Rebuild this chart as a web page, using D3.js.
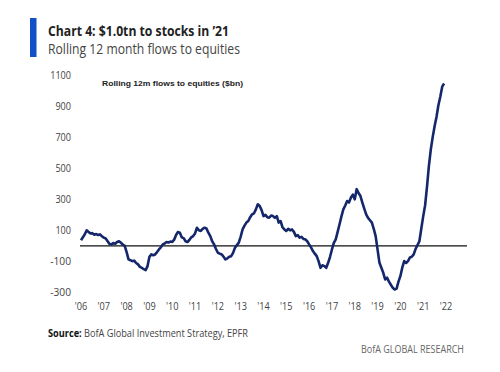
<!DOCTYPE html>
<html><head><meta charset="utf-8">
<script src="https://cdn.jsdelivr.net/npm/d3@7"></script>
<style>body{margin:0;background:#fff}svg{display:block}</style>
</head><body>
<script>
const years = ["'06","'07","'08","'09","'10","'11","'12","'13","'14","'15","'16","'17","'18","'19","'20","'21","'22"];
const yTicks = [-300,-100,100,300,500,700,900,1100];
const startYear = 2006;
// monthly rolling 12m flows ($bn), Jan 2006 .. Dec 2021
const flows2006_2009 = [37,55,75,100,90,80,82,72,76,70,74,62,
  53,48,30,12,10,18,14,25,30,20,8,0,
  -40,-87,-92,-98,-95,-110,-119,-135,-141,-150,-156,-130,
  -70,-55,-60,-55,-40,-23,-10,10,15,25,22,28];
const flows2010_2013 = [25,40,70,89,85,55,50,30,25,38,55,63,
  80,117,100,96,110,117,112,85,63,30,10,-20,
  -44,-50,-55,-70,-87,-80,-70,-66,-45,-12,5,21,
  60,106,130,150,160,185,203,210,235,268,257,230];
const flows2014_2017 = [192,200,185,182,195,192,180,192,150,160,120,106,
  96,110,100,106,90,63,70,53,58,45,42,30,
  10,-10,-33,-50,-66,-100,-141,-125,-130,-141,-109,-70,
  -23,20,42,90,139,190,235,260,289,280,311,330];
const flows2018_2021 = [300,365,340,321,279,240,203,180,165,150,110,63,
  -23,-109,-141,-173,-216,-205,-230,-250,-270,-281,-275,-230,
  -195,-140,-98,-110,-98,-75,-70,-55,-20,5,30,110,
  190,260,380,515,620,700,770,830,905,960,1025,1045];
const values = [...flows2006_2009, ...flows2010_2013, ...flows2014_2017, ...flows2018_2021];

const W = 500, H = 372;
const svg = d3.select("body").append("svg").attr("width", W).attr("height", H);

const x = d3.scaleLinear().domain([2006, 2022]).range([81, 446]);
const y = d3.scaleLinear().domain([-300, 1100]).range([292.5, 75]);

const font = "'Open Sans', 'Noto Sans', sans-serif";

// title block
svg.append("rect").attr("x", 30).attr("y", 18).attr("width", 6.5).attr("height", 39).attr("fill", "#1150c8");
svg.append("text").attr("x", 48).attr("y", 36).attr("font-family", font).attr("font-weight", "bold")
  .attr("font-size", 14.5).attr("fill", "#222").attr("textLength", 181).attr("lengthAdjust", "spacingAndGlyphs")
  .text("Chart 4: $1.0tn to stocks in \u201921");
svg.append("text").attr("x", 48).attr("y", 54).attr("font-family", font)
  .attr("font-size", 14).attr("fill", "#444").attr("textLength", 192).attr("lengthAdjust", "spacingAndGlyphs")
  .text("Rolling 12 month flows to equities");

// y tick labels
svg.append("g").selectAll("text").data(yTicks).join("text")
  .attr("x", 71).attr("y", d => y(d) + 3.5).attr("text-anchor", "end")
  .attr("font-family", font).attr("font-size", 10).attr("fill", "#444")
  .attr("textLength", d => String(d).length * 5.2).attr("lengthAdjust", "spacingAndGlyphs")
  .text(d => d);

// x tick labels
svg.append("g").selectAll("text").data(years).join("text")
  .attr("x", (d, i) => x(startYear + i)).attr("y", 310).attr("text-anchor", "middle")
  .attr("font-family", font).attr("font-size", 10).attr("fill", "#444")
  .attr("textLength", 12.5).attr("lengthAdjust", "spacingAndGlyphs")
  .text(d => d);

// zero line
svg.append("line").attr("x1", 80).attr("x2", 467).attr("y1", y(0)).attr("y2", y(0))
  .attr("stroke", "#111").attr("stroke-width", 1.2);

// inner label
svg.append("text").attr("x", 102).attr("y", 86).attr("font-family", "'Liberation Sans', Arial, sans-serif")
  .attr("font-weight", "bold").attr("font-size", 8).attr("fill", "#222")
  .attr("textLength", 141).attr("lengthAdjust", "spacingAndGlyphs")
  .text("Rolling 12m flows to equities ($bn)");

// line
const line = d3.line().x((d, i) => x(startYear + i / 12)).y(d => y(d)).curve(d3.curveLinear);
svg.append("path").datum(values).attr("d", line).attr("fill", "none")
  .attr("stroke", "#15276b").attr("stroke-width", 2.6).attr("stroke-linejoin", "round");

// source
const src = svg.append("text").attr("x", 48).attr("y", 337).attr("font-family", font)
  .attr("font-size", 10).attr("fill", "#444").attr("textLength", 200).attr("lengthAdjust", "spacingAndGlyphs");
src.append("tspan").attr("font-weight", "bold").attr("fill", "#111").text("Source:");
src.append("tspan").text(" BofA Global Investment Strategy, EPFR");

svg.append("text").attr("x", 464).attr("y", 353).attr("text-anchor", "end").attr("font-family", font)
  .attr("font-size", 10).attr("fill", "#666").attr("textLength", 103).attr("lengthAdjust", "spacingAndGlyphs")
  .text("BofA GLOBAL RESEARCH");
</script>
</body></html>
